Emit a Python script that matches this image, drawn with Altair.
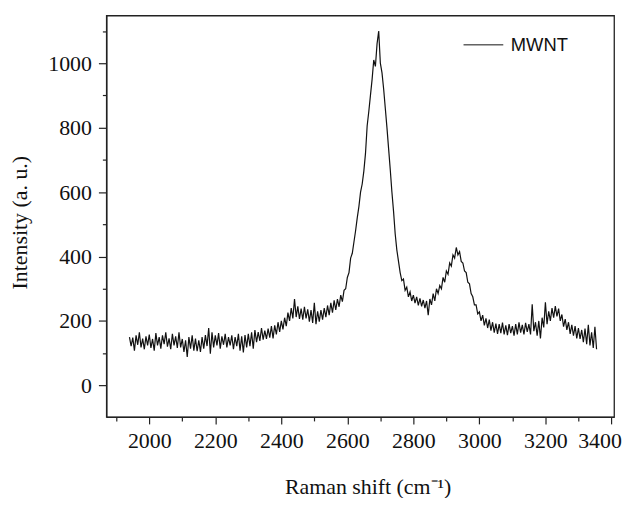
import altair as alt
import pandas as pd

# Raman shift sampling grid (cm^-1)
shift = list(range(1940, 3356, 5))

# Intensity values (a. u.)
intensity = [
    150, 122, 148, 108, 155, 126, 165, 118, 145, 112,
    152, 124, 158, 116, 144, 108, 162, 124, 150, 114,
    155, 128, 165, 120, 146, 112, 160, 124, 152, 116,
    165, 118, 144, 104, 140, 88, 150, 114, 155, 108,
    145, 106, 140, 104, 150, 114, 156, 122, 178, 98,
    165, 118, 155, 124, 162, 114, 152, 126, 160, 118,
    150, 124, 155, 112, 150, 122, 160, 108, 152, 102,
    156, 118, 160, 122, 165, 114, 172, 134, 165, 138,
    178, 142, 170, 144, 176, 148, 184, 146, 186, 158,
    196, 166, 200, 174, 210, 184, 226, 200, 240, 208,
    268, 212, 245, 206, 238, 204, 244, 208, 236, 198,
    234, 194, 256, 190, 230, 198, 234, 204, 240, 212,
    248, 218, 256, 226, 264, 234, 268, 244, 280, 260,
    295, 300, 335, 350, 395, 410, 445, 480, 520, 555,
    600, 625, 665, 720, 805, 850, 900, 950, 1010, 990,
    1060, 1100, 1000, 970, 920, 860, 800, 735, 670, 600,
    540, 470, 420, 385, 350, 325, 330, 295, 305, 275,
    290, 262, 280, 255, 275, 248, 270, 245, 265, 240,
    262, 218, 268, 250, 285, 262, 300, 285, 310, 300,
    335, 320, 355, 345, 380, 370, 405, 395, 428, 405,
    415, 385, 380, 355, 350, 320, 315, 285, 275, 250,
    250, 222, 228, 200, 218, 186, 208, 178, 204, 170,
    196, 164, 192, 160, 190, 162, 195, 158, 186, 156,
    190, 162, 184, 154, 190, 158, 196, 164, 188, 158,
    194, 166, 190, 158, 252, 168, 196, 154, 200, 146,
    210, 180, 258, 190, 230, 200, 240, 210, 246, 214,
    238, 200, 220, 182, 206, 172, 196, 160, 188, 154,
    184, 146, 178, 144, 172, 134, 176, 128, 188, 124,
    165, 116, 182, 112,
]

sample_name = "MWNT"
x_tick_values = [1900, 2000, 2100, 2200, 2300, 2400, 2500, 2600, 2700,
                 2800, 2900, 3000, 3100, 3200, 3300, 3400]
y_tick_values = [0, 100, 200, 300, 400, 500, 600, 700, 800, 900, 1000, 1100]

df = pd.DataFrame({
    "shift": shift,
    "intensity": intensity,
    "sample": [sample_name] * len(shift),
})

serif = "Liberation Serif"
major_test = "datum.value % 200 === 0"

chart = alt.Chart(df).mark_line(strokeWidth=1.2).encode(
    x=alt.X(
        "shift:Q",
        scale=alt.Scale(domain=[1870, 3408], nice=False, zero=False),
        axis=alt.Axis(
            values=x_tick_values,
            format="d",
            labelExpr="datum.value % 200 === 0 ? datum.label : ''",
            labelOverlap=False,
            labelFlush=5,
            labelFlushOffset=10,
            title="Raman shift (cm⁻¹)",
            titleX=263,
            titleY=70,
            titleBaseline="middle",
            tickSize={"condition": {"test": major_test, "value": 7}, "value": 4},
            labelPadding=7,
        ),
    ),
    y=alt.Y(
        "intensity:Q",
        scale=alt.Scale(domain=[-98, 1148], nice=False, zero=False),
        axis=alt.Axis(
            values=y_tick_values,
            format="d",
            labelExpr="datum.value % 200 === 0 ? datum.label : ''",
            labelOverlap=False,
            title="Intensity (a. u.)",
            titleX=-87,
            titleY=208,
            titleAngle=-90,
            titleAlign="center",
            titleBaseline="middle",
            tickSize={"condition": {"test": major_test, "value": 8}, "value": 4},
            labelPadding=7,
        ),
    ),
    color=alt.Color(
        "sample:N",
        scale=alt.Scale(range=["#111111"]),
        legend=alt.Legend(
            title=None,
            orient="none",
            legendX=359,
            legendY=9,
            padding=0,
            symbolType="stroke",
            symbolSize=1600,
            symbolStrokeWidth=1,
            labelFont="Liberation Sans",
            labelFontSize=18.5,
            labelColor="#111111",
            labelOffset=7,
        ),
    ),
).properties(
    width=511,
    height=404,
    background="white",
    autosize=alt.AutoSizeParams(type="none"),
    padding={"left": 99, "top": 6, "right": 10, "bottom": 80},
).configure_view(
    stroke="#222222",
    strokeWidth=1.3,
).configure_axis(
    grid=False,
    domainColor="#222222",
    domainWidth=1.3,
    tickColor="#222222",
    tickWidth=1.2,
    labelFont=serif,
    labelFontSize=22,
    labelColor="#111111",
    titleFont=serif,
    titleFontSize=22,
    titleFontWeight="normal",
    titleColor="#111111",
)

chart.save("out.html", embed_options={"renderer": "svg", "actions": False})
